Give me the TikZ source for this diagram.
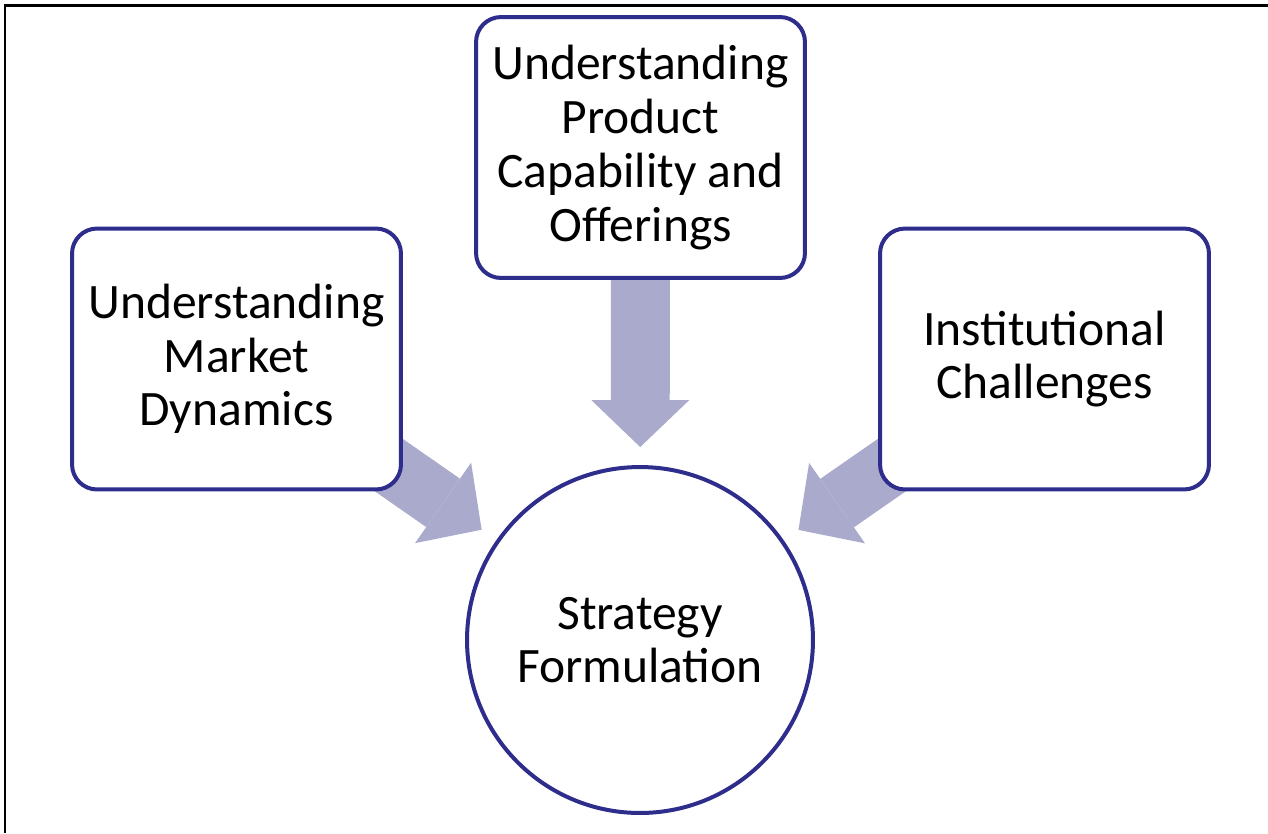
\documentclass[tikz,border=0pt]{standalone}
\usepackage{fontspec}
\setmainfont{Carlito}
\usepackage{tikz}
\usetikzlibrary{arrows.meta}
\usetikzlibrary{backgrounds}
\definecolor{navy}{RGB}{46,45,140}
\definecolor{lavender}{RGB}{170,170,205}
\tikzstyle{box} =[draw=navy, line width=0.08cm, rounded corners=0.5cm, fill=white, align=center, minimum width=6.58cm, minimum height=5.22cm, font=\fontsize{28.2}{30.6}\selectfont]
\tikzstyle{bigarrow} =[-{Triangle[width=1.96cm, length=0.94cm, line width=0pt]}, line width=1.18cm, draw=lavender, fill=lavender, shorten >=0.36cm]

\begin{document}
\begin{tikzpicture}[x=0.02cm, y=-0.02cm]
		\useasboundingbox (0,0) rectangle (1268,833);
		\draw[line width=0.06cm] (1268,5) -- (5,5) -- (5,833);
		\node (prod)[box] at (640.5,147.5) {Understanding\\Product\\Capability and\\Offerings};
		\node (mkt)[box] at (236.5,359) {Understanding\\Market\\Dynamics};
		\node (inst)[box] at (1044.5,359) {Institutional\\Challenges};
		\node (strat)[draw=navy,
		circle,
		line width=0.08cm,
		fill=white,
		align=center,
		font=\fontsize{28.2}{30.6}\selectfont,
		minimum size=6.92cm] at (640,640) {Strategy\\Formulation};
		\begin{scope}[on background layer]
		\draw[bigarrow] (prod.center) -- (strat);
		\draw[bigarrow] (mkt.center) -- (strat);
		\draw[bigarrow] (inst.center) -- (strat);
		\end{scope}
		\end{tikzpicture}
\end{document}
